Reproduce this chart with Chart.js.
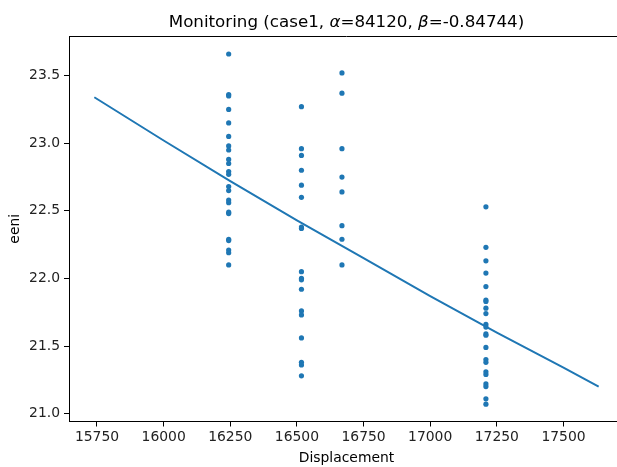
<!DOCTYPE html>
<html lang="en">

<head>
    <meta charset="UTF-8">
    <title>Monitoring</title>
    <style>
        html, body {
            margin: 0;
            padding: 0;
            background: #fff;
            overflow: hidden;
        }

        #wrap {
            width: 617px;
            height: 467px;
            overflow: hidden;
        }

        /* plot box runs a few px past the window, like the cropped original */
        #inner {
            width: 628px;
            height: 467px;
        }
    </style>
</head>

<body>
    <div id="wrap">
        <div id="inner">
            <canvas id="monitoringChart" width="628" height="467"></canvas>
        </div>
    </div>

    <script src="https://cdn.jsdelivr.net/npm/chart.js"></script>
    <script>
        // displacement of each measured group
        const displacements = [16244, 16517, 16669, 17209];

        // eeni readings per displacement group
        const eeni16244 = [23.66, 23.36, 23.35, 23.25, 23.15, 23.05, 22.98, 22.95, 22.88, 22.85, 22.79, 22.77,
            22.68, 22.65, 22.58, 22.56, 22.49, 22.48, 22.29, 22.28, 22.21, 22.19, 22.10];
        const eeni16517 = [23.27, 22.96, 22.91, 22.80, 22.69, 22.60, 22.38, 22.37, 22.05, 22.00, 21.99, 21.92,
            21.76, 21.73, 21.56, 21.38, 21.36, 21.28];
        const eeni16669 = [23.52, 23.37, 22.96, 22.75, 22.64, 22.39, 22.29, 22.10];
        const eeni17209 = [22.53, 22.23, 22.13, 22.04, 21.94, 21.84, 21.83, 21.78, 21.74, 21.66, 21.64, 21.59,
            21.58, 21.49, 21.40, 21.38, 21.31, 21.29, 21.22, 21.20, 21.11, 21.07];
        const eeniGroups = [eeni16244, eeni16517, eeni16669, eeni17209];

        // fitted curve
        const fitX = [15740, 16000, 16250, 16500, 16750, 17000, 17250, 17500, 17632];
        const fitY = [23.34, 23.02, 22.72, 22.43, 22.15, 21.87, 21.60, 21.34, 21.20];

        // axis ticks
        const xTicks = [15750, 16000, 16250, 16500, 16750, 17000, 17250, 17500];
        const yTicks = [21.0, 21.5, 22.0, 22.5, 23.0, 23.5];

        const titleParts = [
            ['Monitoring (case1, ', false],
            ['α', true],
            ['=84120, ', false],
            ['β', true],
            ['=-0.84744)', false]
        ];

        const points = [];
        displacements.forEach((d, i) => {
            eeniGroups[i].forEach(v => points.push({ x: d, y: v }));
        });
        const fitPoints = fitX.map((x, i) => ({ x: x, y: fitY[i] }));

        const blue = '#1f77b4';
        const tickFont = { family: 'DejaVu Sans', size: 13.9 };

        // title with italic greek letters + top/right spines
        const framePlugin = {
            id: 'frame',
            afterDraw(chart) {
                const ctx = chart.ctx;
                const area = chart.chartArea;
                ctx.save();
                ctx.strokeStyle = '#000';
                ctx.lineWidth = 1;
                ctx.beginPath();
                ctx.moveTo(area.left, area.top + 0.5);
                ctx.lineTo(area.right, area.top + 0.5);
                ctx.moveTo(area.right - 0.5, area.top);
                ctx.lineTo(area.right - 0.5, area.bottom);
                ctx.stroke();

                const fontN = '16.7px "DejaVu Sans"';
                const fontI = 'oblique 16.7px "DejaVu Sans"';
                let total = 0;
                titleParts.forEach(p => {
                    ctx.font = p[1] ? fontI : fontN;
                    total += ctx.measureText(p[0]).width;
                });
                let x = (area.left + area.right) / 2 - total / 2;
                ctx.fillStyle = '#000';
                ctx.textBaseline = 'alphabetic';
                ctx.textAlign = 'left';
                titleParts.forEach(p => {
                    ctx.font = p[1] ? fontI : fontN;
                    ctx.fillText(p[0], x, 27);
                    x += ctx.measureText(p[0]).width;
                });
                ctx.restore();
            }
        };

        new Chart(document.getElementById('monitoringChart'), {
            type: 'scatter',
            data: {
                datasets: [{
                    label: 'fit',
                    data: fitPoints,
                    showLine: true,
                    borderColor: blue,
                    borderWidth: 2,
                    pointRadius: 0,
                    fill: false
                }, {
                    label: 'eeni',
                    data: points,
                    backgroundColor: blue,
                    borderColor: blue,
                    borderWidth: 0,
                    pointRadius: 2.6
                }]
            },
            options: {
                responsive: false,
                animation: false,
                devicePixelRatio: 1,
                layout: { padding: { top: 36, left: 7, right: 0, bottom: 0 } },
                plugins: {
                    legend: { display: false },
                    tooltip: { enabled: false }
                },
                scales: {
                    x: {
                        type: 'linear',
                        min: 15645,
                        max: 17727,
                        afterBuildTicks: (scale) => { scale.ticks = xTicks.map(v => ({ value: v })); },
                        afterFit: (scale) => { scale.height = 45.5; },
                        grid: { drawOnChartArea: false, drawTicks: true, tickLength: 5, tickColor: '#000' },
                        border: { display: true, color: '#000', width: 1 },
                        ticks: { color: '#222', font: tickFont, padding: 3, maxRotation: 0, callback: v => String(v) },
                        title: { display: true, text: 'Displacement', color: '#000', font: tickFont, padding: 0 }
                    },
                    y: {
                        type: 'linear',
                        min: 20.942,
                        max: 23.793,
                        afterBuildTicks: (scale) => { scale.ticks = yTicks.map(v => ({ value: v })); },
                        afterFit: (scale) => { scale.width = 62; },
                        grid: { drawOnChartArea: false, drawTicks: true, tickLength: 5, tickColor: '#000' },
                        border: { display: true, color: '#000', width: 1 },
                        ticks: { color: '#222', font: tickFont, padding: 4, callback: v => v.toFixed(1) },
                        title: { display: true, text: 'eeni', color: '#000', font: tickFont, padding: 0 }
                    }
                }
            },
            plugins: [framePlugin]
        });
    </script>
</body>

</html>
